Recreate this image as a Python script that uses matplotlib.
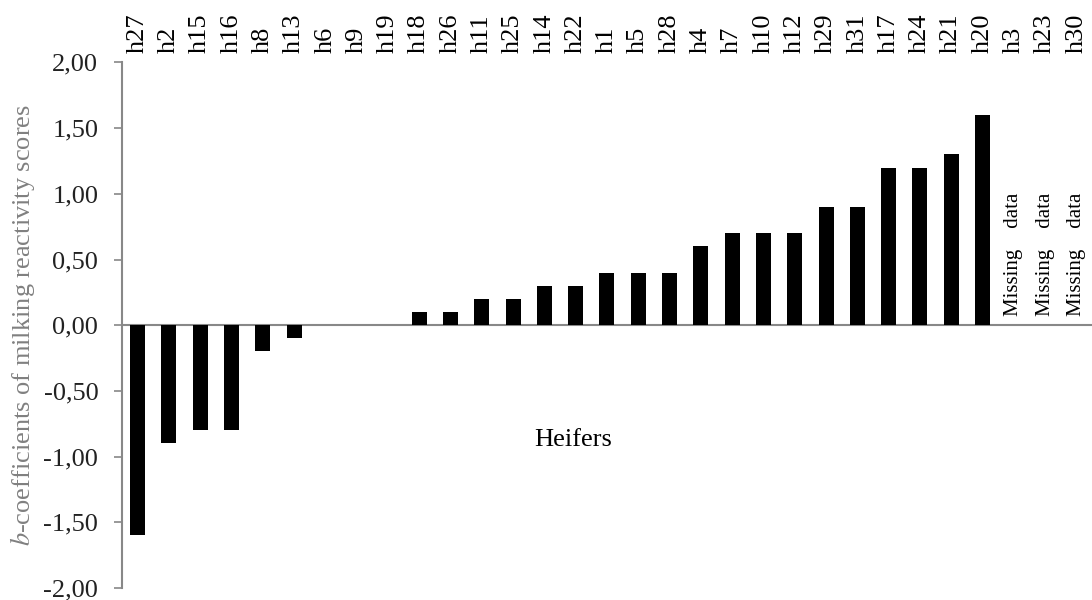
import matplotlib
matplotlib.use("Agg")
import matplotlib.pyplot as plt

heifers = ["h27", "h2", "h15", "h16", "h8", "h13", "h6", "h9", "h19", "h18",
           "h26", "h11", "h25", "h14", "h22", "h1", "h5", "h28", "h4", "h7",
           "h10", "h12", "h29", "h31", "h17", "h24", "h21", "h20", "h3", "h23", "h30"]
b_coef = [-1.6, -0.9, -0.8, -0.8, -0.2, -0.1, 0.0, 0.0, 0.0, 0.1,
          0.1, 0.2, 0.2, 0.3, 0.3, 0.4, 0.4, 0.4, 0.6, 0.7,
          0.7, 0.7, 0.9, 0.9, 1.2, 1.2, 1.3, 1.6, None, None, None]
missing = ["h3", "h23", "h30"]
yticks = [-2.0, -1.5, -1.0, -0.5, 0.0, 0.5, 1.0, 1.5, 2.0]

plt.rcParams['font.family'] = ['Liberation Serif', 'DejaVu Serif']
plt.rcParams['mathtext.fontset'] = 'stix'

fig = plt.figure(figsize=(10.92, 6), dpi=100)
ax = fig.add_axes([0.1117, 0.02, 0.8883, 0.876])

xs = list(range(len(heifers)))
vals = [v if v is not None else 0 for v in b_coef]
ax.bar(xs, vals, width=0.48, color="black", zorder=3)

ax.set_xlim(-0.5, len(heifers) - 0.5)
ax.set_ylim(-2.0, 2.0)
ax.set_yticks(yticks)
ax.set_yticklabels([("%.2f" % t).replace(".", ",") for t in yticks],
                   fontsize=19, color="#222222")

ax.xaxis.tick_top()
ax.set_xticks(xs)
ax.set_xticklabels(heifers, rotation=90, fontsize=19)
ax.tick_params(axis="x", length=0, pad=7)
ax.tick_params(axis="y", length=6, width=1.2, color="#888888", pad=11, direction="out")

for s in ["top", "right", "bottom"]:
    ax.spines[s].set_visible(False)
ax.spines["left"].set_color("#888888")
ax.spines["left"].set_linewidth(1.5)
ax.axhline(0, color="#888888", linewidth=1.5, zorder=2)

for h in missing:
    ax.text(heifers.index(h), 0.07, "Missing    data", rotation=90,
            ha="center", va="bottom", fontsize=15)

ax.text(0.465, 0.282, "Heifers", transform=ax.transAxes, ha="center",
        va="center", fontsize=19)

ax.set_ylabel(r"$\it{b}$-coefficients of milking reactivity scores",
              fontsize=19, color="#808080")
ax.yaxis.set_label_coords(-0.088, 0.5)

fig.savefig("out.png", dpi=100)
